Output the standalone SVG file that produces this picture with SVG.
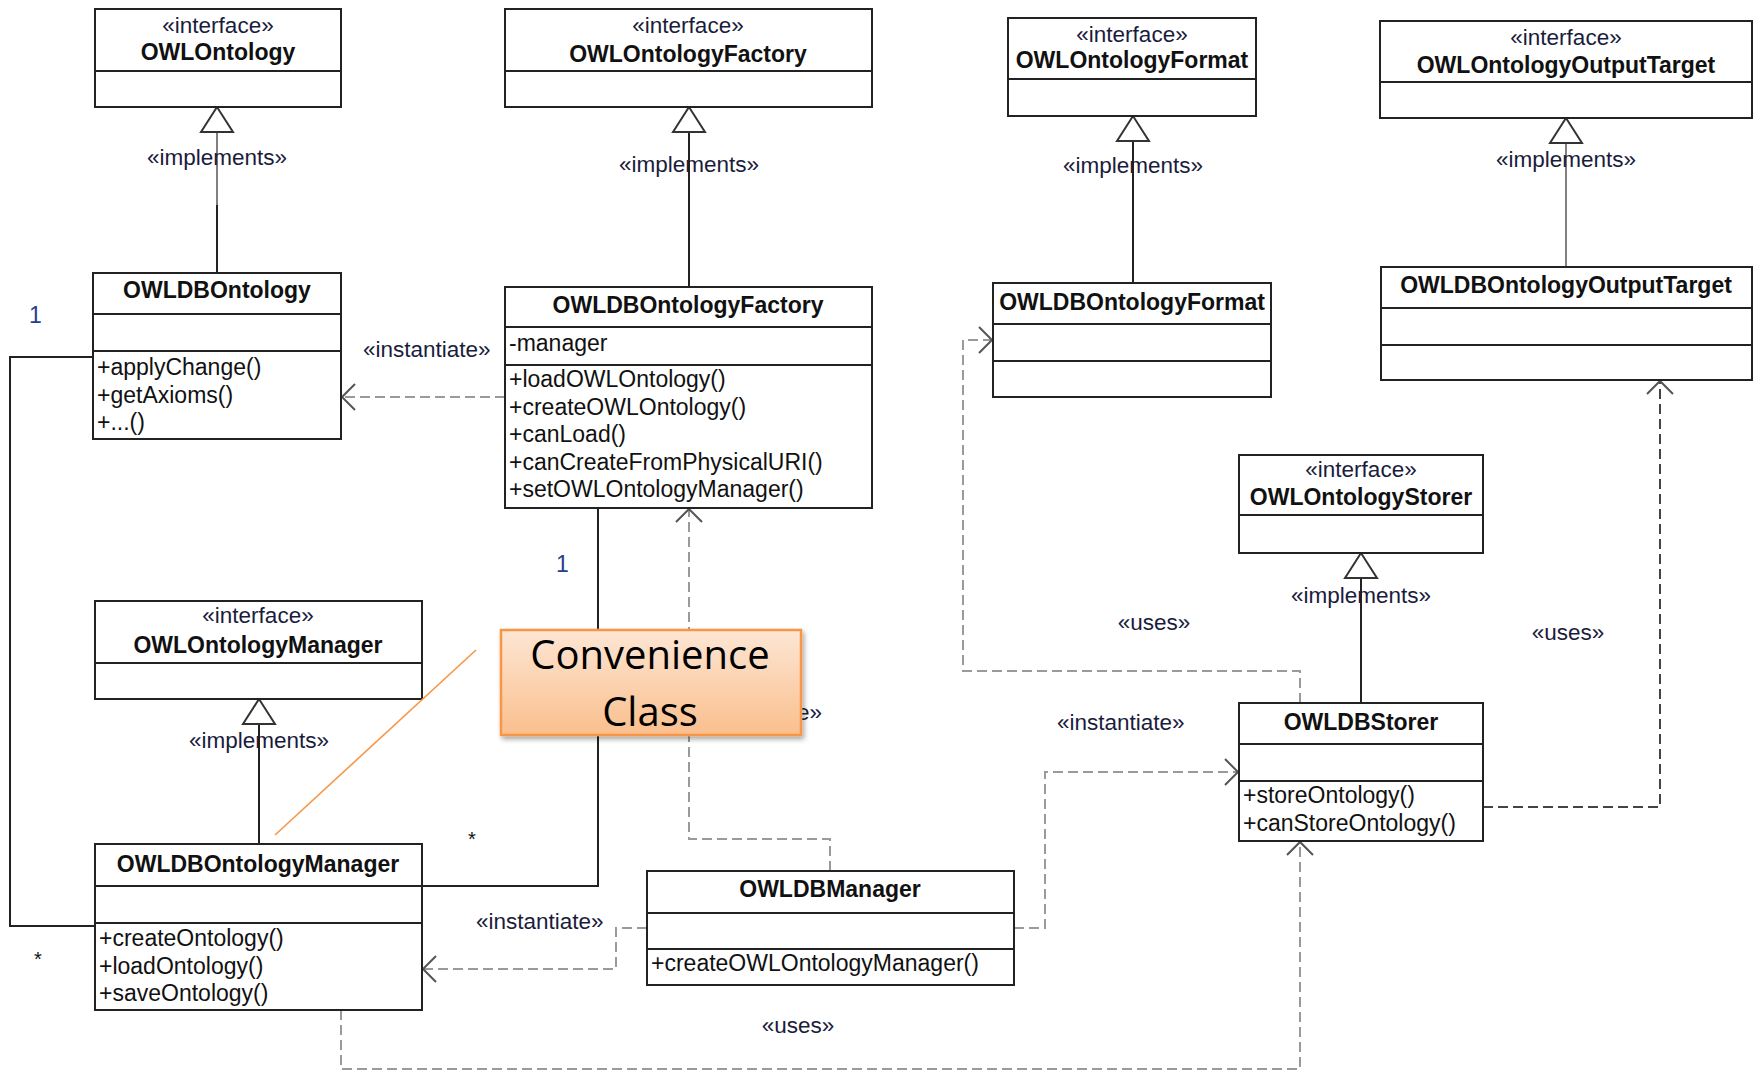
<svg xmlns="http://www.w3.org/2000/svg" width="1758" height="1072" viewBox="0 0 1758 1072">
  <style>
    .box { fill: #ffffff; stroke: #222222; stroke-width: 2; }
    .sep { stroke: #222222; stroke-width: 2; }
    text { font-family: "Liberation Sans", Arial, sans-serif; }
    .name { font-size: 23px; font-weight: bold; text-anchor: middle; fill: #111111; }
    .stereo { font-size: 22.5px; text-anchor: middle; fill: #1a1c3c; }
    .member { font-size: 23px; fill: #111111; }
    .lbl { font-size: 22.5px; fill: #1a1c3c; }
    .mult { font-size: 23px; fill: #24408a; }
    .star { font-size: 20px; fill: #111111; }
    .solid { fill: none; stroke: #222222; stroke-width: 2; }
    .grey { fill: none; stroke: #808080; stroke-width: 2; }
    .tri { fill: #ffffff; stroke: #333333; stroke-width: 2; stroke-linejoin: miter; }
    .dep { fill: none; stroke: #9a9a9a; stroke-width: 2; stroke-dasharray: 10 5; marker-end: url(#open); }
    .dep-dark { fill: none; stroke: #444444; stroke-width: 2; stroke-dasharray: 10 5; marker-end: url(#open); }
    .note { fill: url(#noteFill); stroke: #f79646; stroke-width: 2.5; }
    .noteText { font-family: "Open Sans", "Noto Sans", sans-serif; font-size: 40px; text-anchor: middle; fill: #000000; }
  </style>
  <defs>
    <marker id="open" markerUnits="userSpaceOnUse" viewBox="-16 -16 18 32" refX="0" refY="0" markerWidth="18" markerHeight="32" orient="auto">
      <path d="M -13 -13 L 0 0 L -13 13" fill="none" stroke="#555555" stroke-width="2"/>
    </marker>
    <linearGradient id="noteFill" x1="0" y1="0" x2="0" y2="1">
      <stop offset="0" stop-color="#fde6d4"/>
      <stop offset="1" stop-color="#fabf8d"/>
    </linearGradient>
    <filter id="shadow" x="-10%" y="-20%" width="120%" height="150%">
      <feDropShadow dx="2" dy="3" stdDeviation="2.5" flood-color="#000000" flood-opacity="0.35"/>
    </filter>
  </defs>

  <rect width="1758" height="1072" fill="#ffffff"/>

  <!-- connectors -->
  <g id="connectors">
    <!-- realizations -->
    <line class="grey" x1="217" y1="132" x2="217" y2="205"/>
    <line class="solid" x1="217" y1="205" x2="217" y2="273"/>
    <polygon class="tri" points="217,107 201,132 233,132"/>
    <text class="lbl" x="217" y="165" text-anchor="middle">«implements»</text>

    <line class="solid" x1="689" y1="132" x2="689" y2="287"/>
    <polygon class="tri" points="689,107 673,132 705,132"/>
    <text class="lbl" x="689" y="172" text-anchor="middle">«implements»</text>

    <line class="solid" x1="1133" y1="141" x2="1133" y2="283"/>
    <polygon class="tri" points="1133,116 1117,141 1149,141"/>
    <text class="lbl" x="1133" y="173" text-anchor="middle">«implements»</text>

    <line class="grey" x1="1566" y1="143" x2="1566" y2="267"/>
    <polygon class="tri" points="1566,118 1550,143 1582,143"/>
    <text class="lbl" x="1566" y="167" text-anchor="middle">«implements»</text>

    <line class="solid" x1="1361" y1="578" x2="1361" y2="703"/>
    <polygon class="tri" points="1361,553 1345,578 1377,578"/>
    <text class="lbl" x="1361" y="603" text-anchor="middle">«implements»</text>

    <line class="solid" x1="259" y1="724" x2="259" y2="844"/>
    <polygon class="tri" points="259,699 243,724 275,724"/>
    <text class="lbl" x="259" y="748" text-anchor="middle">«implements»</text>

    <!-- associations -->
    <polyline class="solid" points="93,357 10,357 10,926 95,926"/>
    <text class="mult" x="29" y="323">1</text>
    <text class="star" x="34" y="966">*</text>

    <polyline class="solid" points="598,508 598,886 422,886"/>
    <text class="mult" x="556" y="572">1</text>
    <text class="star" x="468" y="846">*</text>

    <!-- dependencies -->
    <polyline class="dep" points="505,397 342,397"/>
    <text class="lbl" x="363" y="357">«instantiate»</text>

    <polyline class="dep" points="830,871 830,839 689,839 689,509"/>
    <text class="lbl" x="822" y="720" text-anchor="end">«instantiate»</text>

    <polyline class="dep" points="647,928 616,928 616,969 423,969"/>
    <text class="lbl" x="476" y="929">«instantiate»</text>

    <polyline class="dep" points="1014,928 1045,928 1045,772 1238,772"/>
    <text class="lbl" x="1057" y="730">«instantiate»</text>

    <polyline class="dep" points="1300,703 1300,671 963,671 963,340 992,340"/>
    <text class="lbl" x="1154" y="630" text-anchor="middle">«uses»</text>

    <polyline class="dep-dark" points="1483,807 1660,807 1660,381"/>
    <text class="lbl" x="1568" y="640" text-anchor="middle">«uses»</text>

    <polyline class="dep" points="341,1010 341,1069 1300,1069 1300,842"/>
    <text class="lbl" x="798" y="1033" text-anchor="middle">«uses»</text>
  </g>

  <!-- interfaces -->
  <g id="OWLOntology">
    <rect class="box" x="95" y="9" width="246" height="98"/>
    <line class="sep" x1="95" y1="71" x2="341" y2="71"/>
    <text class="stereo" x="218" y="33">«interface»</text>
    <text class="name" x="218" y="60">OWLOntology</text>
  </g>
  <g id="OWLOntologyFactory">
    <rect class="box" x="505" y="9" width="367" height="98"/>
    <line class="sep" x1="505" y1="71" x2="872" y2="71"/>
    <text class="stereo" x="688" y="33">«interface»</text>
    <text class="name" x="688" y="62">OWLOntologyFactory</text>
  </g>
  <g id="OWLOntologyFormat">
    <rect class="box" x="1008" y="18" width="248" height="98"/>
    <line class="sep" x1="1008" y1="79" x2="1256" y2="79"/>
    <text class="stereo" x="1132" y="42">«interface»</text>
    <text class="name" x="1132" y="68">OWLOntologyFormat</text>
  </g>
  <g id="OWLOntologyOutputTarget">
    <rect class="box" x="1380" y="21" width="372" height="97"/>
    <line class="sep" x1="1380" y1="82" x2="1752" y2="82"/>
    <text class="stereo" x="1566" y="45">«interface»</text>
    <text class="name" x="1566" y="73">OWLOntologyOutputTarget</text>
  </g>
  <g id="OWLOntologyStorer">
    <rect class="box" x="1239" y="455" width="244" height="98"/>
    <line class="sep" x1="1239" y1="515" x2="1483" y2="515"/>
    <text class="stereo" x="1361" y="477">«interface»</text>
    <text class="name" x="1361" y="505">OWLOntologyStorer</text>
  </g>
  <g id="OWLOntologyManager">
    <rect class="box" x="95" y="601" width="327" height="98"/>
    <line class="sep" x1="95" y1="663" x2="422" y2="663"/>
    <text class="stereo" x="258" y="623">«interface»</text>
    <text class="name" x="258" y="653">OWLOntologyManager</text>
  </g>

  <!-- implementation classes -->
  <g id="OWLDBOntology">
    <rect class="box" x="93" y="273" width="248" height="166"/>
    <line class="sep" x1="93" y1="314" x2="341" y2="314"/>
    <line class="sep" x1="93" y1="351" x2="341" y2="351"/>
    <text class="name" x="217" y="298">OWLDBOntology</text>
    <text class="member" x="97" y="375">+applyChange()</text>
    <text class="member" x="97" y="402.5">+getAxioms()</text>
    <text class="member" x="97" y="430">+...()</text>
  </g>
  <g id="OWLDBOntologyFactory">
    <rect class="box" x="505" y="287" width="367" height="221"/>
    <line class="sep" x1="505" y1="327" x2="872" y2="327"/>
    <line class="sep" x1="505" y1="365" x2="872" y2="365"/>
    <text class="name" x="688" y="313">OWLDBOntologyFactory</text>
    <text class="member" x="509" y="351">-manager</text>
    <text class="member" x="509" y="387">+loadOWLOntology()</text>
    <text class="member" x="509" y="414.5">+createOWLOntology()</text>
    <text class="member" x="509" y="442">+canLoad()</text>
    <text class="member" x="509" y="469.5">+canCreateFromPhysicalURI()</text>
    <text class="member" x="509" y="497">+setOWLOntologyManager()</text>
  </g>
  <g id="OWLDBOntologyFormat">
    <rect class="box" x="993" y="283" width="278" height="114"/>
    <line class="sep" x1="993" y1="324" x2="1271" y2="324"/>
    <line class="sep" x1="993" y1="361" x2="1271" y2="361"/>
    <text class="name" x="1132" y="310">OWLDBOntologyFormat</text>
  </g>
  <g id="OWLDBOntologyOutputTarget">
    <rect class="box" x="1381" y="267" width="371" height="113"/>
    <line class="sep" x1="1381" y1="308" x2="1752" y2="308"/>
    <line class="sep" x1="1381" y1="345" x2="1752" y2="345"/>
    <text class="name" x="1566" y="293">OWLDBOntologyOutputTarget</text>
  </g>
  <g id="OWLDBStorer">
    <rect class="box" x="1239" y="703" width="244" height="138"/>
    <line class="sep" x1="1239" y1="744" x2="1483" y2="744"/>
    <line class="sep" x1="1239" y1="781" x2="1483" y2="781"/>
    <text class="name" x="1361" y="730">OWLDBStorer</text>
    <text class="member" x="1243" y="803">+storeOntology()</text>
    <text class="member" x="1243" y="831">+canStoreOntology()</text>
  </g>
  <g id="OWLDBOntologyManager">
    <rect class="box" x="95" y="844" width="327" height="166"/>
    <line class="sep" x1="95" y1="886" x2="422" y2="886"/>
    <line class="sep" x1="95" y1="923" x2="422" y2="923"/>
    <text class="name" x="258" y="872">OWLDBOntologyManager</text>
    <text class="member" x="99" y="946">+createOntology()</text>
    <text class="member" x="99" y="974">+loadOntology()</text>
    <text class="member" x="99" y="1001">+saveOntology()</text>
  </g>
  <g id="OWLDBManager">
    <rect class="box" x="647" y="871" width="367" height="114"/>
    <line class="sep" x1="647" y1="913" x2="1014" y2="913"/>
    <line class="sep" x1="647" y1="949" x2="1014" y2="949"/>
    <text class="name" x="830" y="897">OWLDBManager</text>
    <text class="member" x="651" y="971">+createOWLOntologyManager()</text>
  </g>

  <!-- callout -->
  <g id="ConvenienceNote">
    <line x1="476" y1="650" x2="275" y2="835" stroke="#f79646" stroke-width="1.6"/>
    <rect class="note" x="501" y="630" width="300" height="105" filter="url(#shadow)"/>
    <text class="noteText" x="650" y="669">Convenience</text>
    <text class="noteText" x="650" y="726">Class</text>
  </g>
</svg>
